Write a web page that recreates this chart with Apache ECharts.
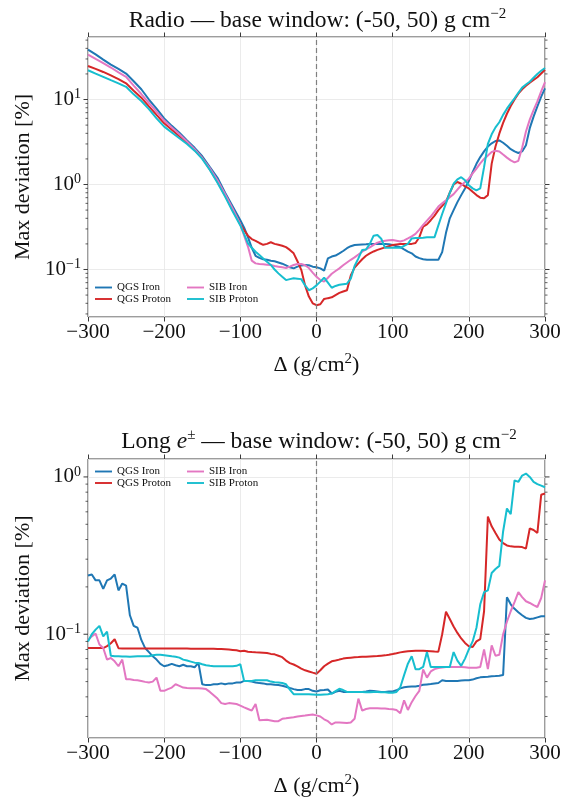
<!DOCTYPE html>
<html>
<head>
<meta charset="utf-8">
<script src="https://cdn.jsdelivr.net/npm/echarts@6/dist/echarts.min.js"></script>
<style>
  html, body { margin: 0; padding: 0; background: #ffffff; }
  #chart { width: 565px; height: 798px; }
</style>
</head>
<body>
<div id="chart"></div>
<script>
// ---------------- DATA ----------------
const seriesNames = ['QGS Iron', 'QGS Proton', 'SIB Iron', 'SIB Proton'];
const xTickLabels = [-300, -200, -100, 0, 100, 200, 300];

// Radio panel (Δ in g/cm², values in %)
const deltaTop = [-300,-290,-280,-270,-260,-250,-240,-230,-220,-210,-200,-190,-180,-170,-160,-150,-140,-130,-120,-110,-100,
  -95,-90,-85,-80,-75,-70,-65,-60,-55,-50,-45,-40,-35,-30,-25,-20,-15,-10,-5,0,
  5,10,15,20,25,30,35,40,45,50,55,60,65,70,75,80,85,90,95,100,
  105,110,115,120,125,130,135,140,145,150,155,160,165,170,175,180,185,190,195,200,
  205,210,215,220,225,230,235,240,245,250,255,260,265,270,275,280,285,290,295,300];

const qgsIronTop = [38.6,34,29.5,25.7,22.9,20.2,16.4,13.2,10,7.8,6.0,4.9,4.07,3.3,2.7,2.15,1.6,1.2,0.8,0.55,0.38,
  0.31,0.24,0.18,0.145,0.137,0.132,0.13,0.127,0.125,0.121,0.117,0.112,0.106,0.103,0.108,0.111,0.113,0.112,0.108,0.106,
  0.103,0.097,0.135,0.142,0.146,0.155,0.165,0.178,0.188,0.194,0.196,0.197,0.198,0.2,0.2,0.2,0.2,0.2,0.198,0.194,
  0.188,0.183,0.172,0.162,0.155,0.142,0.136,0.132,0.13,0.13,0.13,0.13,0.16,0.27,0.4,0.5,0.62,0.75,0.9,1.1,
  1.4,1.75,2.1,2.45,2.8,3.05,3.25,3.3,3.1,2.85,2.6,2.45,2.35,2.45,2.9,4.6,6.3,8.3,10.8,13.5];

const qgsProtonTop = [24.8,22.9,21.1,19.2,17.4,15.5,12.7,10.5,8.3,6.6,5.25,4.4,3.7,3.1,2.55,2.05,1.5,1.08,0.74,0.5,0.34,
  0.29,0.25,0.228,0.217,0.205,0.195,0.2,0.209,0.2,0.195,0.19,0.183,0.17,0.155,0.125,0.099,0.065,0.048,0.04,0.038,
  0.039,0.045,0.046,0.047,0.05,0.053,0.055,0.057,0.085,0.105,0.118,0.132,0.145,0.155,0.163,0.17,0.176,0.182,0.188,0.194,
  0.197,0.2,0.2,0.2,0.2,0.205,0.24,0.32,0.34,0.38,0.43,0.5,0.56,0.63,0.8,1.0,1.07,1.02,0.95,0.9,
  0.82,0.75,0.7,0.69,0.75,1.76,2.8,3.96,5.3,6.8,8.4,10,11.7,13.2,14.5,15.8,17,18.3,20.2,22.4];

const sibIronTop = [33.8,30,26.8,23.8,20.9,18.5,14.6,11.6,9.1,7.2,5.65,4.7,3.9,3.2,2.6,2.05,1.55,1.12,0.77,0.52,0.34,
  0.25,0.186,0.127,0.118,0.116,0.115,0.114,0.113,0.11,0.108,0.106,0.104,0.108,0.113,0.116,0.116,0.112,0.104,0.092,0.082,
  0.075,0.072,0.08,0.089,0.096,0.103,0.112,0.121,0.13,0.139,0.15,0.162,0.172,0.182,0.195,0.207,0.213,0.218,0.221,0.222,
  0.218,0.213,0.22,0.232,0.245,0.262,0.295,0.334,0.375,0.42,0.48,0.55,0.6,0.65,0.71,0.77,0.87,0.98,1.07,1.17,
  1.35,1.54,1.77,2.0,2.2,2.41,2.5,2.45,2.25,2.07,1.92,1.82,1.9,2.7,4.2,5.8,7.5,9.5,12.5,16];

const sibProtonTop = [22.1,20.2,18.5,16.9,15.5,14.1,11.5,9.6,7.7,6.0,4.8,4.1,3.5,3.0,2.5,2.0,1.48,1.05,0.72,0.48,0.33,
  0.26,0.203,0.18,0.162,0.148,0.135,0.123,0.113,0.1,0.09,0.082,0.075,0.077,0.079,0.078,0.077,0.065,0.057,0.06,0.065,
  0.072,0.08,0.07,0.061,0.064,0.066,0.067,0.068,0.078,0.11,0.135,0.17,0.172,0.2,0.25,0.255,0.23,0.18,0.18,0.18,
  0.18,0.18,0.19,0.2,0.232,0.235,0.235,0.237,0.24,0.24,0.24,0.33,0.45,0.6,0.8,1.02,1.15,1.22,1.12,0.98,
  0.9,0.855,0.9,1.6,3.0,3.9,4.7,5.4,6.6,7.8,9.0,10.3,12,13.8,15,16.2,18,20,21.8,23.5];

// Long e± panel
const deltaBottom = [-300,-295,-290,-285,-280,-275,-270,-265,-260,-255,-250,-245,-240,-235,-230,-225,-220,-215,-210,-205,
  -200,-195,-190,-185,-180,-175,-170,-165,-160,-155,-150,-145,-140,-135,-130,-125,-120,-115,-110,-105,
  -100,-95,-90,-85,-80,-75,-70,-65,-60,-55,-50,-45,-40,-35,-30,-25,-20,-15,-10,-5,
  0,5,10,15,20,25,30,35,40,45,50,55,60,65,70,75,80,85,90,95,
  100,105,110,115,120,125,130,135,140,145,150,155,160,165,170,175,180,185,190,195,
  200,205,210,215,220,225,230,235,240,245,250,255,260,265,270,275,280,285,290,295,300];

const qgsIronBottom = [0.236,0.24,0.22,0.22,0.194,0.22,0.226,0.24,0.19,0.21,0.204,0.132,0.113,0.11,0.092,0.0817,0.077,0.0724,0.069,0.0648,
  0.0626,0.0635,0.0648,0.0635,0.0626,0.064,0.0626,0.0626,0.0617,0.0657,0.0481,0.0475,0.0475,0.0481,0.0481,0.0487,0.0481,0.0487,0.0487,0.0493,
  0.0493,0.0505,0.0505,0.0501,0.0493,0.0489,0.0487,0.0481,0.0481,0.0477,0.0475,0.0471,0.0464,0.0455,0.0448,0.0442,0.0442,0.0448,0.0448,0.0437,
  0.0433,0.044,0.0442,0.0445,0.042,0.043,0.0437,0.043,0.043,0.043,0.043,0.043,0.043,0.0433,0.0437,0.0435,0.0433,0.043,0.043,0.0432,
  0.0433,0.044,0.0453,0.046,0.0463,0.0465,0.0466,0.047,0.0477,0.048,0.0483,0.0487,0.049,0.051,0.0505,0.0505,0.0505,0.0505,0.0508,0.051,
  0.051,0.0515,0.0525,0.0532,0.0535,0.0537,0.054,0.0542,0.0545,0.055,0.172,0.155,0.145,0.138,0.132,0.127,0.125,0.126,0.128,0.13,0.13];

const qgsProtonBottom = [0.0817,0.0817,0.0817,0.0817,0.0817,0.084,0.0877,0.093,0.0815,0.0812,0.0812,0.0812,0.0812,0.0812,0.0812,0.0812,0.0812,0.0812,0.0812,0.0812,
  0.0812,0.0812,0.0812,0.0812,0.0812,0.0812,0.0812,0.081,0.081,0.081,0.081,0.081,0.0808,0.0808,0.0805,0.0805,0.0803,0.08,0.0795,0.079,
  0.078,0.0785,0.0775,0.077,0.0767,0.0765,0.0763,0.076,0.075,0.0745,0.073,0.0715,0.068,0.0655,0.0642,0.0625,0.0605,0.059,0.058,0.057,
  0.0561,0.059,0.0626,0.065,0.0673,0.068,0.069,0.07,0.0706,0.071,0.0713,0.0716,0.072,0.072,0.0722,0.0724,0.0726,0.073,0.0734,0.074,
  0.0748,0.0757,0.0767,0.0775,0.078,0.0783,0.0785,0.0785,0.0785,0.0783,0.078,0.0777,0.0775,0.1,0.139,0.125,0.112,0.102,0.094,0.088,
  0.084,0.083,0.09,0.093,0.14,0.56,0.485,0.44,0.4,0.38,0.367,0.362,0.36,0.36,0.358,0.35,0.47,0.46,0.44,0.77,0.785];

const sibIronBottom = [0.092,0.097,0.101,0.086,0.0817,0.069,0.0706,0.0673,0.0626,0.069,0.0517,0.0517,0.0512,0.051,0.0505,0.0498,0.0493,0.05,0.053,0.0437,
  0.0437,0.0448,0.0458,0.0481,0.047,0.0458,0.0455,0.0454,0.0454,0.0454,0.0452,0.0448,0.043,0.041,0.039,0.0365,0.036,0.0365,0.0363,0.036,
  0.0352,0.0343,0.0335,0.0327,0.036,0.0284,0.0285,0.0286,0.0283,0.028,0.028,0.029,0.0292,0.0295,0.0297,0.03,0.0302,0.0304,0.0307,0.0309,
  0.0305,0.03,0.0288,0.028,0.0267,0.0275,0.0275,0.0274,0.0273,0.0275,0.029,0.039,0.0327,0.0335,0.0338,0.0338,0.0338,0.0337,0.0337,0.0335,
  0.0334,0.033,0.0315,0.038,0.033,0.037,0.0405,0.0437,0.0598,0.053,0.058,0.06,0.061,0.0615,0.0618,0.0618,0.0618,0.0618,0.0618,0.0617,
  0.0612,0.0612,0.0612,0.062,0.08,0.06,0.085,0.073,0.074,0.1,0.12,0.14,0.16,0.185,0.172,0.162,0.158,0.153,0.149,0.17,0.22];

const sibProtonBottom = [0.09,0.1,0.107,0.113,0.097,0.104,0.073,0.0724,0.0724,0.0722,0.0722,0.072,0.0722,0.0724,0.0724,0.0724,0.0724,0.0735,0.074,0.074,
  0.0735,0.073,0.0724,0.072,0.071,0.069,0.068,0.067,0.066,0.0657,0.0645,0.0635,0.063,0.0626,0.0626,0.0626,0.0626,0.0626,0.0626,0.063,
  0.0645,0.0505,0.0505,0.0505,0.051,0.051,0.051,0.051,0.05,0.0495,0.0493,0.049,0.0481,0.0445,0.0416,0.0416,0.0416,0.0416,0.0416,0.0414,
  0.0412,0.0412,0.0414,0.0416,0.042,0.0435,0.045,0.0442,0.043,0.043,0.043,0.043,0.043,0.0428,0.0428,0.043,0.043,0.0428,0.0428,0.0425,
  0.0425,0.043,0.046,0.055,0.065,0.0724,0.06,0.06,0.062,0.077,0.062,0.062,0.062,0.062,0.062,0.062,0.077,0.068,0.063,0.07,
  0.08,0.09,0.11,0.155,0.185,0.19,0.245,0.26,0.272,0.45,0.63,0.58,0.95,0.93,1.02,1.05,1.0,0.93,0.9,0.88,0.86];

// ---------------- STYLE ----------------
const FONT = 'Liberation Serif';
const colors = { 'QGS Iron': '#1f77b4', 'QGS Proton': '#d62728', 'SIB Iron': '#e377c2', 'SIB Proton': '#17becf' };
const spine = '#3a3a3a';
const gridColor = '#e6e6e6';
const yRange = [[0.0276, 54.4], [0.0219, 1.30]];

const chart = echarts.init(document.getElementById('chart'), null, { renderer: 'canvas' });

function isDecade(v) {
  const l = Math.log10(v);
  return Math.abs(l - Math.round(l)) < 1e-6;
}
function decadeLabel(v) {
  if (!isDecade(v)) return '';
  const e = Math.round(Math.log10(v));
  return '{b|10}{e|' + (e < 0 ? '\u2212' + (-e) : String(e)) + '}';
}
function logTicks(range) {
  const out = [];
  for (let k = -3; k <= 3; k++) {
    for (let m = 1; m <= 9; m++) {
      const v = m * Math.pow(10, k);
      if (v >= range[0] * 1.0001 && v <= range[1] * 0.9999) out.push([0, v]);
    }
  }
  return out;
}

const grids = [
  { left: 88, top: 37, width: 457, height: 280, show: true, borderColor: spine, borderWidth: 1, backgroundColor: 'transparent' },
  { left: 88, top: 459, width: 457, height: 282, show: true, borderColor: spine, borderWidth: 1, backgroundColor: 'transparent' }
];

const xAxes = [];
const yAxes = [];
[0, 1].forEach(g => {
  xAxes.push({
    gridIndex: g, type: 'value', min: -300, max: 300, interval: 100, position: 'bottom',
    axisLine: { show: false },
    axisTick: { show: true, length: 4.5, inside: false, lineStyle: { color: spine, width: 1 } },
    axisLabel: { fontFamily: FONT, fontSize: 21, color: '#111', margin: 5,
      formatter: v => String(v).replace('-', '\u2212') },
    splitLine: { show: true, lineStyle: { color: gridColor, width: 0.8 } },
    name: '{t|\u0394 (g/cm}{s|2}{t|)}', nameLocation: 'middle', nameGap: 35,
    nameTextStyle: { rich: {
      t: { fontFamily: FONT, fontSize: 22, color: '#111', lineHeight: 26 },
      s: { fontFamily: FONT, fontSize: 15, color: '#111', verticalAlign: 'top', lineHeight: 15 }
    } }
  });
  xAxes.push({
    gridIndex: g, type: 'value', min: -300, max: 300, interval: 100, position: 'top',
    axisLine: { show: false },
    axisTick: { show: true, length: 4.5, inside: false, lineStyle: { color: spine, width: 1 } },
    axisLabel: { show: false }, splitLine: { show: false }
  });
  yAxes.push({
    gridIndex: g, type: 'log', logBase: 10, min: yRange[g][0], max: yRange[g][1],
    axisLine: { show: false }, axisTick: { show: false },
    axisLabel: { fontFamily: FONT, color: '#111', margin: 7, showMinLabel: false, showMaxLabel: false,
      formatter: decadeLabel,
      rich: {
        b: { fontFamily: FONT, fontSize: 21, color: '#111', lineHeight: 24 },
        e: { fontFamily: FONT, fontSize: 14, color: '#111', verticalAlign: 'top', lineHeight: 14 }
      } },
    splitLine: { show: true, lineStyle: { color: gridColor, width: 0.8 } },
    name: 'Max deviation [%]', nameLocation: 'middle', nameGap: 54,
    nameTextStyle: { fontFamily: FONT, fontSize: 22, color: '#111' }
  });
});

const panelData = [
  { delta: deltaTop, values: { 'QGS Iron': qgsIronTop, 'QGS Proton': qgsProtonTop, 'SIB Iron': sibIronTop, 'SIB Proton': sibProtonTop } },
  { delta: deltaBottom, values: { 'QGS Iron': qgsIronBottom, 'QGS Proton': qgsProtonBottom, 'SIB Iron': sibIronBottom, 'SIB Proton': sibProtonBottom } }
];

const series = [];
[0, 1].forEach(g => {
  const pd = panelData[g];
  seriesNames.forEach((name, i) => {
    const s = {
      name: name, type: 'line', xAxisIndex: g * 2, yAxisIndex: g,
      data: pd.delta.map((d, k) => [d, pd.values[name][k]]),
      symbol: 'none', showSymbol: false, smooth: false, clip: true,
      lineStyle: { color: colors[name], width: 2 },
      itemStyle: { color: colors[name] },
      z: 3 + i
    };
    if (i === 0) {
      s.markLine = {
        silent: true, symbol: 'none', label: { show: false },
        lineStyle: { color: '#808080', type: [5, 3], width: 1.2 },
        data: [{ xAxis: 0 }]
      };
    }
    series.push(s);
  });
  // y-axis major/minor ticks on left and right spines
  series.push({
    type: 'custom', xAxisIndex: g * 2, yAxisIndex: g, silent: true, clip: false, z: 10,
    data: logTicks(yRange[g]),
    renderItem: function (params, api) {
      const v = api.value(1);
      const y = api.coord([0, v])[1];
      const r = params.coordSys;
      const major = isDecade(v);
      const len = major ? 4.5 : 2.5;
      const st = { stroke: spine, lineWidth: major ? 1 : 0.8 };
      return { type: 'group', children: [
        { type: 'line', shape: { x1: r.x - len, y1: y, x2: r.x, y2: y }, style: st },
        { type: 'line', shape: { x1: r.x + r.width, y1: y, x2: r.x + r.width + len, y2: y }, style: st }
      ] };
    }
  });
});

function legendBlock(names, left, top) {
  return {
    data: names, orient: 'vertical', left: left, top: top, padding: 0,
    itemWidth: 17, itemHeight: 14, itemGap: 0.5,
    icon: 'path://M0,6 L18,6 L18,8 L0,8 Z',
    textStyle: { fontFamily: FONT, fontSize: 11, color: '#111' },
    selectedMode: false
  };
}

const titleRich = {
  t: { fontFamily: FONT, fontSize: 23.5, fontWeight: 'normal', color: '#111', lineHeight: 28 },
  i: { fontFamily: FONT, fontSize: 23.5, fontWeight: 'normal', color: '#111', lineHeight: 28, fontStyle: 'italic' },
  s: { fontFamily: FONT, fontSize: 15, fontWeight: 'normal', color: '#111', verticalAlign: 'top', lineHeight: 15 }
};

chart.setOption({
  animation: false,
  backgroundColor: '#ffffff',
  title: [
    { text: '{t|Radio \u2014 base window: (-50, 50) g cm}{s|\u22122}', left: 312.5, top: 2, textAlign: 'center',
      textStyle: { fontWeight: 'normal', rich: titleRich } },
    { text: '{t|Long }{i|e}{s|\u00b1}{t| \u2014 base window: (-50, 50) g cm}{s|\u22122}', left: 314, top: 423, textAlign: 'center',
      textStyle: { fontWeight: 'normal', rich: titleRich } }
  ],
  legend: [
    legendBlock(['QGS Iron', 'QGS Proton'], 95, 282),
    legendBlock(['SIB Iron', 'SIB Proton'], 187, 282),
    legendBlock(['QGS Iron', 'QGS Proton'], 95, 466),
    legendBlock(['SIB Iron', 'SIB Proton'], 187, 466)
  ],
  grid: grids,
  xAxis: xAxes,
  yAxis: yAxes,
  series: series
});
</script>
</body>
</html>
